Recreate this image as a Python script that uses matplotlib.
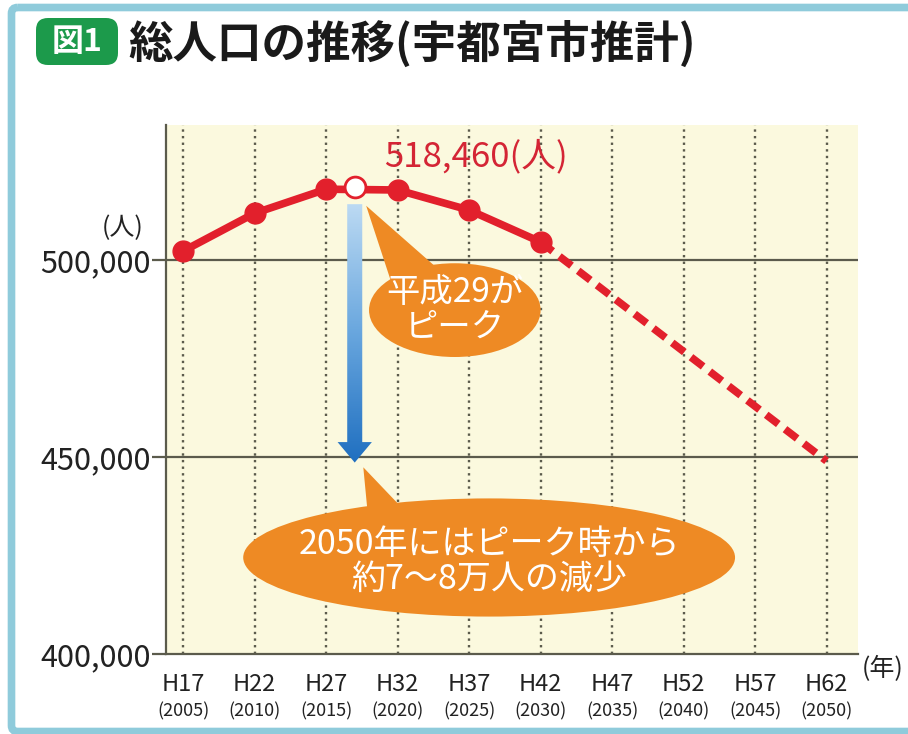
import numpy as np
import matplotlib
matplotlib.use("Agg")
import matplotlib.pyplot as plt
from matplotlib.patches import Ellipse, Polygon, FancyArrow, FancyBboxPatch
from matplotlib.colors import LinearSegmentedColormap
from matplotlib.transforms import blended_transform_factory

plt.rcParams["font.family"] = ["Noto Sans CJK JP", "DejaVu Sans"]

# 実績・推計(人)
years = [2005, 2010, 2015, 2020, 2025, 2030]
population = [502300, 511900, 518000, 517800, 512700, 504600]
proj_years = [2030, 2050]
proj_population = [504600, 449000]
peak_year = 2017
peak_population = 518460

tick_years = [2005, 2010, 2015, 2020, 2025, 2030, 2035, 2040, 2045, 2050]
heisei = ["H17", "H22", "H27", "H32", "H37", "H42", "H47", "H52", "H57", "H62"]
y_ticks = [400000, 450000, 500000]

RED = "#e2202c"
ORANGE = "#ee8a24"
GRID = "#5b5b4c"
BG = "#fbf9de"
INK = "#222222"

fig = plt.figure(figsize=(9.08, 7.34), dpi=100)
fig.patch.set_facecolor("white")

# 枠・見出し
deco = fig.add_axes([0, 0, 1, 1], zorder=0)
deco.set_xlim(0, 908)
deco.set_ylim(734, 0)
deco.axis("off")
deco.add_patch(FancyBboxPatch((11.5, 7.5), 910, 724, boxstyle="round,pad=0,rounding_size=6",
                              fc="none", ec="#8fcbdb", lw=5.5))
deco.add_patch(FancyBboxPatch((36, 18), 82, 47, boxstyle="round,pad=0,rounding_size=12",
                              fc="#1c9a4b", ec="none"))
deco.text(77, 42, "図1", color="white", fontsize=23, fontweight="bold", ha="center", va="center")
deco.text(128, 44, "総人口の推移(宇都宮市推計)", color="#1a1a1a", fontsize=32,
          fontweight="bold", ha="left", va="center")

ax = fig.add_axes([166 / 908, 80 / 734, 692 / 908, 529 / 734], zorder=1)
ax.set_facecolor(BG)

for yr in tick_years:
    ax.axvline(yr, color=GRID, lw=1.7, ls=(0, (1.0, 1.8)), zorder=1)
for yv in y_ticks[1:]:
    ax.axhline(yv, color=GRID, lw=1.6, zorder=1)

for s in ["top", "right"]:
    ax.spines[s].set_visible(False)
for s in ["left", "bottom"]:
    ax.spines[s].set_color(GRID)
    ax.spines[s].set_linewidth(1.6)

ax.set_yticks(y_ticks)
ax.set_yticklabels([f"{v:,}" for v in y_ticks])
ax.tick_params(axis="y", length=10, width=1.6, color=GRID, labelsize=22, pad=1,
               labelcolor=INK)
ax.set_xticks(tick_years)
ax.set_xticklabels([])
ax.tick_params(axis="x", length=0)

tr = blended_transform_factory(ax.transData, ax.transAxes)
for yr, h in zip(tick_years, heisei):
    ax.text(yr, -0.057, h, transform=tr, ha="center", va="center", fontsize=17, color=INK)
    ax.text(yr, -0.108, f"({yr})", transform=tr, ha="center", va="center", fontsize=13,
            color=INK)
ax.text(1.035, -0.028, "(年)", transform=ax.transAxes, ha="center", va="center",
        fontsize=18, color=INK)
ax.text(-0.062, 0.805, "(人)", transform=ax.transAxes, ha="center", va="center",
        fontsize=18, color=INK)

# 青い矢印(グラデーション)
arrow_top = 514200
arrow_tip = 448600
arrow = FancyArrow(peak_year, arrow_top, 0, arrow_tip - arrow_top, width=1.05,
                   head_width=2.4, head_length=5200, length_includes_head=True,
                   fc="none", ec="none", zorder=3)
ax.add_patch(arrow)
cmap = LinearSegmentedColormap.from_list("blu", ["#bcdaf3", "#68a6de", "#1f6fc0"])
grad = np.linspace(1, 0, 256).reshape(-1, 1)
im = ax.imshow(grad, cmap=cmap, aspect="auto", origin="lower", zorder=3,
               extent=[peak_year - 1.3, peak_year + 1.3, arrow_tip, arrow_top])
im.set_clip_path(arrow)
ax.set_xlim(2003.8, 2052.2)
ax.set_ylim(400000, 534300)

# 折れ線
ax.plot(proj_years, proj_population, color=RED, lw=5.5, dashes=(2.0, 1.1),
        solid_capstyle="butt", zorder=4)
ax.plot(years, population, color=RED, lw=5.5, marker="o", markersize=15,
        markerfacecolor=RED, markeredgecolor=RED, zorder=5)
ax.plot([peak_year], [peak_population], marker="o", markersize=15, markerfacecolor="white",
        markeredgecolor=RED, markeredgewidth=2, zorder=6, ls="none")
ax.text(2025.5, 526300, f"{peak_population:,}(人)", color="#d42535", fontsize=25,
        ha="center", va="center", zorder=6)

# 吹き出し
ax.add_patch(Polygon([(2017.8, 513800), (2019.5, 495000), (2022.6, 498500)],
                     closed=True, fc=ORANGE, ec="none", zorder=4))
ax.add_patch(Ellipse((2024.0, 487300), 12.0, 23800, fc=ORANGE, ec="none", zorder=4))
ax.text(2024.0, 487300, "平成29が\nピーク", color="white", fontsize=24, ha="center",
        va="center", linespacing=1.0, zorder=5)

ax.add_patch(Polygon([(2017.6, 447400), (2017.9, 436000), (2020.2, 437500)],
                     closed=True, fc=ORANGE, ec="none", zorder=4))
ax.add_patch(Ellipse((2026.4, 424500), 34.4, 30000, fc=ORANGE, ec="none", zorder=4,
                     clip_on=False))
ax.text(2026.4, 423400, "2050年にはピーク時から\n約7～8万人の減少", color="white",
        fontsize=24.5, ha="center", va="center", linespacing=1.0, zorder=5)

fig.savefig("out.png", dpi=100)
